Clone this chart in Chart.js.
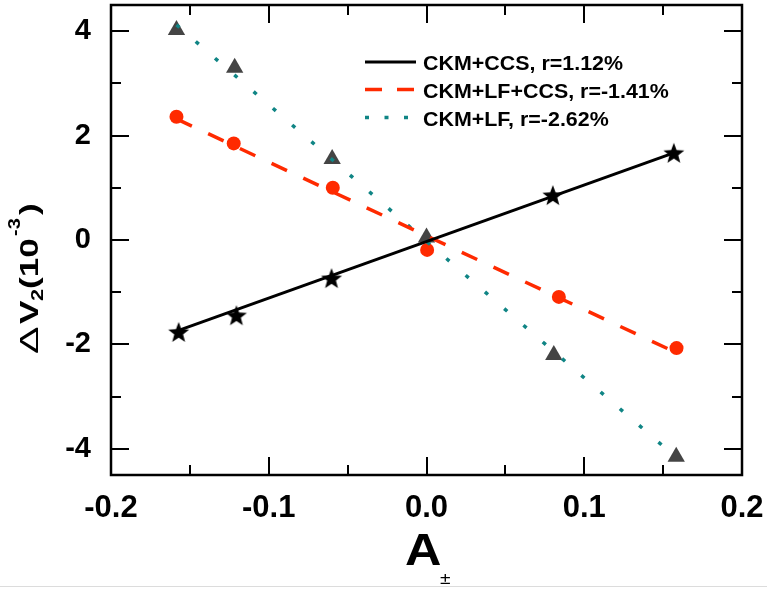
<!DOCTYPE html>
<html>
<head>
<meta charset="utf-8">
<script src="https://cdn.jsdelivr.net/npm/chart.js@4.4.1/dist/chart.umd.min.js"></script>
<style>
  html, body { margin: 0; padding: 0; background: #fff; }
  #wrap { position: relative; width: 767px; height: 593px; overflow: hidden; }
  #rule { position: absolute; left: 0; top: 586px; width: 767px; height: 1px; background: #dcdcdc; }
</style>
</head>
<body>
<div id="wrap">
  <canvas id="c" width="767" height="593"></canvas>
  <div id="rule"></div>
</div>
<script>
// Axis ticks
const xTicks = [-0.2, -0.1, 0.0, 0.1, 0.2];
const yTicks = [-4, -2, 0, 2, 4];
const xMinor = [-0.15, -0.05, 0.05, 0.15];
const yMinor = [-3, -1, 1, 3];

// CKM+CCS (stars)
const ccsA = [-0.1571, -0.1205, -0.0602, 0.0801, 0.1568];
const ccsV = [-1.76, -1.44, -0.73, 0.86, 1.67];
// CKM+LF+CCS (circles)
const lfCcsA = [-0.1585, -0.1222, -0.0594, 0.0004, 0.0839, 0.1585];
const lfCcsV = [2.36, 1.85, 1.00, -0.19, -1.09, -2.07];
// CKM+LF (triangles)
const lfA = [-0.1585, -0.1216, -0.0598, 0.0, 0.0807, 0.1583];
const lfV = [4.02, 3.30, 1.55, 0.05, -2.20, -4.15];

// Linear fit lines, end points
const ccsFitA = [-0.1571, 0.1568];
const ccsFitV = [-1.73, 1.67];
const lfCcsFitA = [-0.1585, 0.1585];
const lfCcsFitV = [2.32, -2.16];
const lfFitA = [-0.1585, 0.1585];
const lfFitV = [4.12, -4.17];

const seriesLabels = ['CKM+CCS, r=1.12%', 'CKM+LF+CCS, r=-1.41%', 'CKM+LF, r=-2.62%'];

const RED = '#ff2a00';
const TEAL = '#108585';
const GREY = '#444444';
const FONT = '"Liberation Sans", Arial, Helvetica, sans-serif';

const pts = (xs, ys) => xs.map((x, i) => ({ x: x, y: ys[i] }));

// filled five-pointed star used as a point marker
function starImage(R, color) {
  const r = R * 0.42;
  const size = Math.ceil(R * 2 + 2);
  const cv = document.createElement('canvas');
  cv.width = size; cv.height = size;
  const g = cv.getContext('2d');
  g.fillStyle = color;
  g.beginPath();
  const cx = size / 2, cy = size / 2 + R * 0.1;
  for (let i = 0; i < 10; i++) {
    const rad = i % 2 ? r : R;
    const a = -Math.PI / 2 + i * Math.PI / 5;
    const px = cx + rad * Math.cos(a), py = cy + rad * Math.sin(a);
    if (i) g.lineTo(px, py); else g.moveTo(px, py);
  }
  g.closePath();
  g.fill();
  return cv;
}
const starImg = starImage(11, '#000');

// draws a text run horizontally stretched by sx
function run(ctx, text, x, y, font, sx) {
  ctx.save();
  ctx.translate(x, y);
  ctx.scale(sx, 1);
  ctx.font = font;
  ctx.fillText(text, 0, 0);
  ctx.restore();
}

// keep the plot box fixed: no extra room for overhanging tick labels
function noOverhang(s) {
  s.paddingTop = 0; s.paddingBottom = 0; s.paddingLeft = 0; s.paddingRight = 0;
}

const decor = {
  id: 'decor',
  afterDraw(chart) {
    const { ctx, chartArea: a, scales: { x, y } } = chart;
    ctx.save();
    ctx.strokeStyle = '#000';
    ctx.fillStyle = '#000';

    // frame
    ctx.lineWidth = 2.5;
    ctx.strokeRect(a.left, a.top, a.right - a.left, a.bottom - a.top);

    // inward ticks on all four sides
    ctx.lineWidth = 2;
    ctx.beginPath();
    const xt = (v, len) => {
      const p = Math.round(x.getPixelForValue(v));
      ctx.moveTo(p, a.bottom); ctx.lineTo(p, a.bottom - len);
      ctx.moveTo(p, a.top); ctx.lineTo(p, a.top + len);
    };
    const yt = (v, len) => {
      const p = Math.round(y.getPixelForValue(v));
      ctx.moveTo(a.left, p); ctx.lineTo(a.left + len, p);
      ctx.moveTo(a.right, p); ctx.lineTo(a.right - len, p);
    };
    xTicks.slice(1, -1).forEach(v => xt(v, 18));
    xMinor.forEach(v => xt(v, 10));
    yTicks.forEach(v => yt(v, 18));
    yMinor.forEach(v => yt(v, 10));
    ctx.stroke();

    // legend
    const rows = [62, 89.5, 117.5];
    const styles = [
      { c: '#000', d: [], w: 3 },
      { c: RED, d: [17, 15], w: 3.5 },
      { c: TEAL, d: [4, 15.5], w: 3.5 }
    ];
    styles.forEach((s, i) => {
      ctx.beginPath();
      ctx.strokeStyle = s.c;
      ctx.lineWidth = s.w;
      ctx.setLineDash(s.d);
      ctx.moveTo(365, rows[i]);
      ctx.lineTo(416, rows[i]);
      ctx.stroke();
    });
    ctx.setLineDash([]);
    ctx.fillStyle = '#000';
    ctx.textBaseline = 'alphabetic';
    ctx.textAlign = 'left';
    seriesLabels.forEach((t, i) => run(ctx, t, 423, rows[i] + 8, 'bold 21px ' + FONT, 1.02));

    // x axis title: A with subscript ±
    run(ctx, 'A', 405, 565, 'bold 45px ' + FONT, 1.12);
    run(ctx, '±', 440, 584, '16px ' + FONT, 1.2);

    // y axis title: ΔV2 (10^-3), rotated
    ctx.save();
    ctx.translate(38, 353);
    ctx.rotate(-Math.PI / 2);
    run(ctx, 'Δ', -1, 0, '25px ' + FONT, 1.65);
    run(ctx, 'V', 29, 0, 'bold 26px ' + FONT, 1.35);
    run(ctx, '2', 52, 5, 'bold 16px ' + FONT, 1.35);
    run(ctx, '(10', 64, 0, 'bold 26px ' + FONT, 1.35);
    run(ctx, '-3', 117, -18, 'bold 16px ' + FONT, 1.25);
    run(ctx, ')', 138, 0, 'bold 26px ' + FONT, 1.35);
    ctx.restore();

    ctx.restore();
  }
};

new Chart(document.getElementById('c'), {
  type: 'scatter',
  data: {
    datasets: [
      { label: seriesLabels[0], data: pts(ccsFitA, ccsFitV), showLine: true,
        borderColor: '#000', borderWidth: 3, pointRadius: 0 },
      { label: seriesLabels[1], data: pts(lfCcsFitA, lfCcsFitV), showLine: true,
        borderColor: RED, borderWidth: 3.5, borderDash: [17, 18], pointRadius: 0 },
      { label: seriesLabels[2], data: pts(lfFitA, lfFitV), showLine: true,
        borderColor: TEAL, borderWidth: 3.5, borderDash: [4, 21.5], pointRadius: 0 },
      { label: 'CKM+CCS', data: pts(ccsA, ccsV), pointStyle: starImg, pointRadius: 11 },
      { label: 'CKM+LF+CCS', data: pts(lfCcsA, lfCcsV), pointStyle: 'circle', pointRadius: 7,
        backgroundColor: RED, borderWidth: 0 },
      { label: 'CKM+LF', data: pts(lfA, lfV), pointStyle: 'triangle', pointRadius: 10,
        backgroundColor: GREY, borderWidth: 0 }
    ]
  },
  options: {
    responsive: false,
    animation: false,
    devicePixelRatio: 1,
    layout: { autoPadding: false, padding: { left: 0, right: 25, top: 5, bottom: 0 } },
    plugins: { legend: { display: false }, tooltip: { enabled: false } },
    scales: {
      x: {
        type: 'linear', min: -0.2, max: 0.2,
        afterBuildTicks: s => { s.ticks = xTicks.map(v => ({ value: v })); },
        afterFit: s => { s.height = 118; noOverhang(s); },
        grid: { display: false, drawTicks: false },
        border: { display: false },
        ticks: { padding: 15, color: '#000', maxRotation: 0,
          font: { family: FONT, size: 31, weight: 'bold' },
          callback: v => Number(v).toFixed(1) }
      },
      y: {
        type: 'linear', min: -4.5, max: 4.5,
        afterBuildTicks: s => { s.ticks = yTicks.map(v => ({ value: v })); },
        afterFit: s => { s.width = 111; noOverhang(s); },
        grid: { display: false, drawTicks: false },
        border: { display: false },
        ticks: { padding: 20, color: '#000',
          font: { family: FONT, size: 29, weight: 'bold' },
          callback: v => String(v) }
      }
    }
  },
  plugins: [decor]
});
</script>
</body>
</html>
